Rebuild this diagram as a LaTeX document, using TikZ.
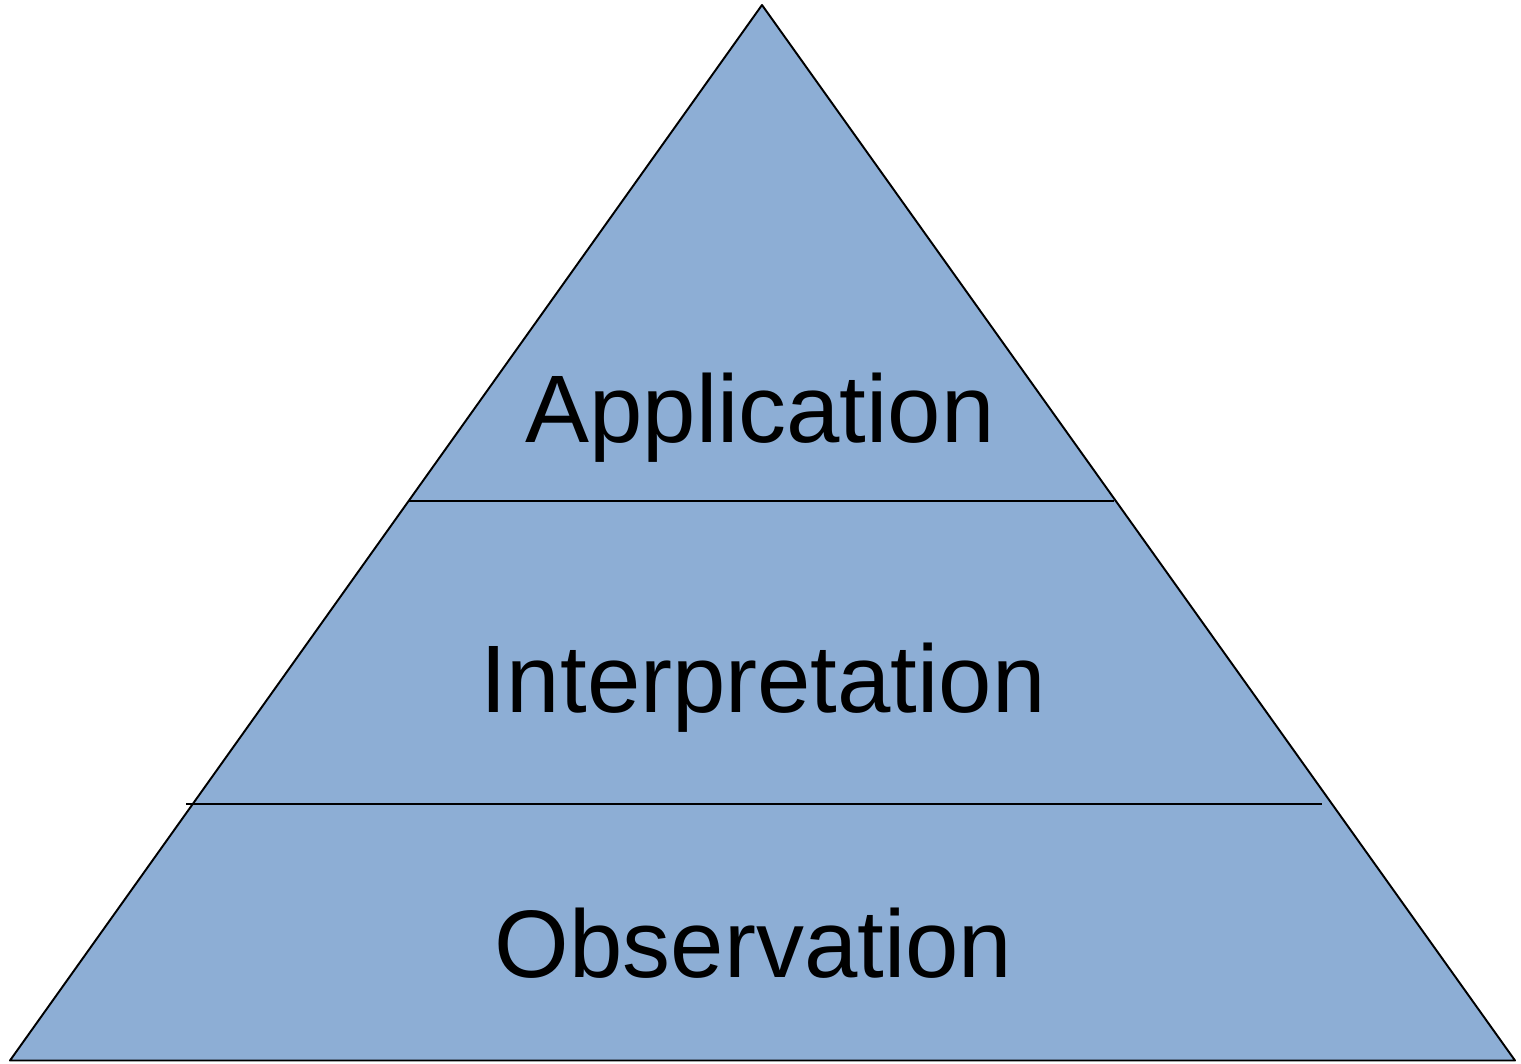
\documentclass[tikz,border=0pt]{standalone}
\usepackage{fontspec}
\setmainfont{Liberation Sans}
\usepackage{tikz}
\usetikzlibrary{positioning}
\definecolor{tierblue}{RGB}{141,174,213}

\begin{document}
\begin{tikzpicture}[scale=0.2]
\tikzstyle{every node}+=[inner sep=0pt]
\tikzstyle{tier}=[font=\fontsize{54.6}{60}\selectfont, anchor=base]
\useasboundingbox (0,0) rectangle (152.1,-106.4);
\fill [tierblue, draw=black, line width=1.1pt, line join=round] (76.2,-0.5) -- (151.5,-106.05) -- (1.0,-106.05) -- cycle;
\draw [black, line width=1.1pt] (40.9,-50.1) -- (111.4,-50.1);
\draw [black, line width=1.1pt] (18.6,-80.4) -- (132.2,-80.4);
\node [tier] (application) at (76.0,-44.3) {Application};
\node [tier] (interpretation) at (76.3,-71.3) {Interpretation};
\node [tier] (observation) at (75.35,-97.7) {Observation};
\end{tikzpicture}
\end{document}
